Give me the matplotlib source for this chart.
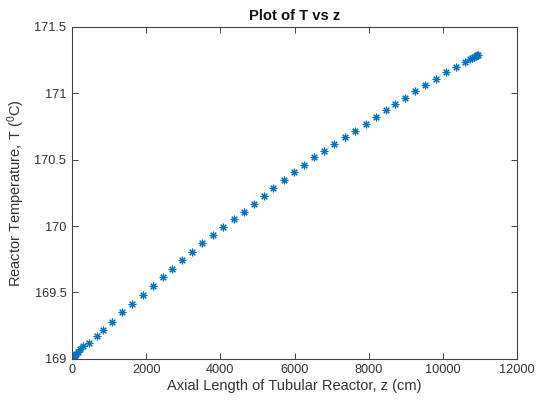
import matplotlib
matplotlib.use('Agg')
import matplotlib.pyplot as plt

# Axial position (cm) and reactor temperature (deg C)
z_cm = [0, 20, 50, 80, 120, 170, 230,
        289, 467, 666, 828, 1079, 1340, 1618, 1907, 2176, 2446, 2705, 2967,
        3244, 3514, 3803, 4080, 4377, 4647, 4908, 5165, 5429, 5718, 5987,
        6257, 6527, 6804, 7074, 7363, 7641, 7921, 8191, 8460, 8711, 8981,
        9259, 9529, 9809, 10087, 10357,
        10600, 10720, 10790, 10840, 10880, 10920, 10950]
T_c = [169.000, 169.008, 169.018, 169.028, 169.040, 169.055, 169.072,
       169.098, 169.123, 169.173, 169.218, 169.281, 169.354, 169.416, 169.482,
       169.550, 169.615, 169.680, 169.745, 169.808, 169.871, 169.934, 169.996,
       170.054, 170.109, 170.167, 170.227, 170.290, 170.348, 170.406, 170.459,
       170.519, 170.569, 170.617, 170.669, 170.719, 170.770, 170.820, 170.875,
       170.920, 170.963, 171.016, 171.061, 171.108, 171.159, 171.201,
       171.236, 171.255, 171.265, 171.272, 171.279, 171.285, 171.290]

x_ticks = [0, 2000, 4000, 6000, 8000, 10000, 12000]
y_ticks = [169, 169.5, 170, 170.5, 171, 171.5]
y_ticklabels = ['169', '169.5', '170', '170.5', '171', '171.5']

plt.rcParams['font.family'] = ['Liberation Sans', 'DejaVu Sans']
plt.rcParams['mathtext.fontset'] = 'custom'
plt.rcParams['mathtext.rm'] = 'Liberation Sans'
plt.rcParams['mathtext.it'] = 'Liberation Sans:italic'

axis_grey = '#444444'
text_grey = '#333333'

fig = plt.figure(figsize=(5.37, 4.01), dpi=100)
ax = fig.add_axes([0.134, 0.105, 0.829, 0.828])

# MATLAB-style asterisk markers
ax.plot(z_cm, T_c, linestyle='none', marker=(8, 2, 0), markersize=5.5,
        markeredgewidth=0.8, color='#0072BD')

ax.set_xlim(0, 12000)
ax.set_ylim(169, 171.5)
ax.set_xticks(x_ticks)
ax.set_yticks(y_ticks)
ax.set_yticklabels(y_ticklabels)

ax.tick_params(direction='in', top=True, right=True, length=4, width=0.7,
               colors=axis_grey, labelsize=9.2, labelcolor=text_grey, pad=4)
for s in ax.spines.values():
    s.set_color(axis_grey)
    s.set_linewidth(0.8)

ax.set_title('Plot of T vs z', fontsize=10.6, fontweight='bold', pad=5,
             color='#111111')
ax.set_xlabel('Axial Length of Tubular Reactor, z (cm)', fontsize=10.5,
              color=text_grey, labelpad=2)
ax.set_ylabel(r'Reactor Temperature, T ($^{0}$C)', fontsize=10.5,
              color=text_grey, labelpad=5)

fig.savefig('out.png', dpi=100)
plt.close(fig)
